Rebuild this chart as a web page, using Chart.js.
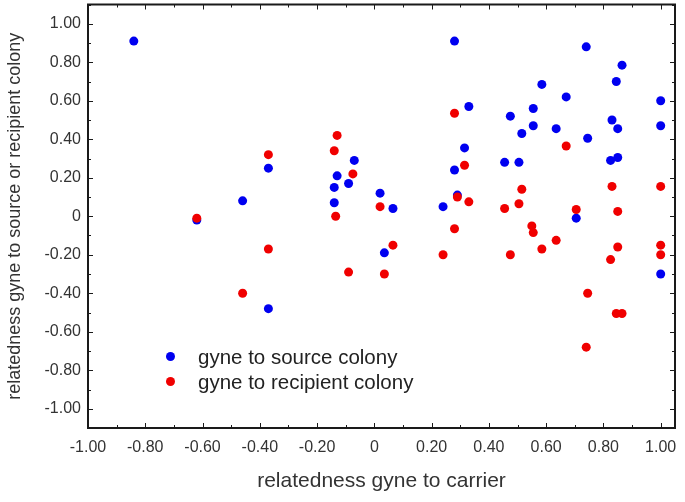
<!DOCTYPE html>
<html>
<head>
<meta charset="utf-8">
<script src="https://cdn.jsdelivr.net/npm/chart.js@4.4.0/dist/chart.umd.min.js"></script>
<style>
  body { margin: 0; background: #fff; }
  #wrap { position: relative; width: 685px; height: 502px; }
  .leg { position: absolute; left: 166px; font: 20.5px "Liberation Sans", Arial, sans-serif; color: #222; white-space: nowrap; }
  .leg span.dot { display: inline-block; width: 9px; height: 9px; border-radius: 50%; margin-right: 23px; vertical-align: middle; position: relative; top: -2px; }
</style>
</head>
<body>
<div id="wrap">
  <canvas id="scatterChart" width="685" height="502"></canvas>
</div>
<script>
// relatedness gyne to carrier (x) vs relatedness gyne to source colony (y)
const sourceX = [-0.84, -0.62, -0.46, -0.37, -0.37, -0.13, -0.09, -0.14, -0.14, -0.07,
  0.02, 0.065, 0.035, 0.24, 0.28, 0.28, 0.29, 0.315, 0.33, 0.455,
  0.475, 0.505, 0.515, 0.555, 0.555, 0.585, 0.635, 0.67, 0.705, 0.74,
  0.745, 0.825, 0.83, 0.845, 0.85, 0.85, 0.865, 1.0, 1.0, 1.0];
const sourceY = [0.91, -0.02, 0.08, 0.25, -0.48, 0.21, 0.17, 0.15, 0.07, 0.29,
  0.12, 0.04, -0.19, 0.05, 0.91, 0.24, 0.11, 0.355, 0.57, 0.28,
  0.52, 0.28, 0.43, 0.56, 0.47, 0.685, 0.455, 0.62, -0.01, 0.88,
  0.405, 0.29, 0.50, 0.70, 0.455, 0.305, 0.785, 0.60, 0.47, -0.30];

// relatedness gyne to carrier (x) vs relatedness gyne to recipient colony (y)
const recipientX = [-0.62, -0.46, -0.37, -0.37, -0.13, -0.14, -0.075, -0.135, -0.09, 0.02,
  0.065, 0.035, 0.24, 0.28, 0.29, 0.28, 0.315, 0.33, 0.455, 0.475,
  0.505, 0.515, 0.55, 0.555, 0.585, 0.635, 0.67, 0.705, 0.74, 0.745,
  0.825, 0.83, 0.85, 0.85, 0.845, 0.865, 1.0, 1.0, 1.0];
const recipientY = [-0.01, -0.40, 0.32, -0.17, 0.42, 0.34, 0.22, 0.0, -0.29, 0.05,
  -0.15, -0.30, -0.20, 0.535, 0.10, -0.065, 0.265, 0.075, 0.04, -0.20,
  0.065, 0.14, -0.05, -0.085, -0.17, -0.125, 0.365, 0.035, -0.68, -0.40,
  -0.225, 0.155, 0.025, -0.16, -0.505, -0.505, 0.155, -0.15, -0.20];

const seriesLabels = ['gyne to source colony', 'gyne to recipient colony'];
const seriesColors = ['#0000f0', '#f00000'];

const toPoints = (xs, ys) => xs.map((x, i) => ({ x: x, y: ys[i] }));

const isMajor = (v) => Math.abs(Math.round(v * 10)) % 2 === 0;
const fmt = (v) => {
  if (!isMajor(v)) return '';
  if (Math.abs(v) < 1e-9) return '0';
  return v.toFixed(2);
};

// frame with inward tick marks on all four sides
const framePlugin = {
  id: 'frame',
  afterDatasetsDraw(chart) {
    const { ctx, chartArea: a, scales } = chart;
    ctx.save();
    ctx.strokeStyle = '#1a1a1a';
    ctx.lineWidth = 1;
    ctx.beginPath();
    scales.x.ticks.forEach((t) => {
      const px = Math.round(scales.x.getPixelForValue(t.value)) + 0.5;
      const len = isMajor(t.value) ? 5 : 3;
      ctx.moveTo(px, a.bottom); ctx.lineTo(px, a.bottom - len);
      ctx.moveTo(px, a.top); ctx.lineTo(px, a.top + len);
    });
    scales.y.ticks.forEach((t) => {
      const py = Math.round(scales.y.getPixelForValue(t.value)) + 0.5;
      const len = isMajor(t.value) ? 5 : 3;
      ctx.moveTo(a.left, py); ctx.lineTo(a.left + len, py);
      ctx.moveTo(a.right, py); ctx.lineTo(a.right - len, py);
    });
    ctx.stroke();
    ctx.lineWidth = 2;
    ctx.strokeRect(a.left, a.top, a.right - a.left, a.bottom - a.top);
    ctx.restore();
  }
};

const tickFont = { family: '"Liberation Sans", Arial, sans-serif', size: 16 };

const chart = new Chart(document.getElementById('scatterChart').getContext('2d'), {
  type: 'scatter',
  data: {
    datasets: [
      {
        label: seriesLabels[0],
        data: toPoints(sourceX, sourceY),
        backgroundColor: seriesColors[0],
        borderWidth: 0,
        pointRadius: 4.5,
        order: 2,
      },
      {
        label: seriesLabels[1],
        data: toPoints(recipientX, recipientY),
        backgroundColor: seriesColors[1],
        borderWidth: 0,
        pointRadius: 4.5,
        order: 1,
      },
    ],
  },
  options: {
    responsive: false,
    animation: false,
    layout: { padding: { top: 4, right: 10, left: 0, bottom: 0 } },
    plugins: { legend: { display: false }, tooltip: { enabled: false } },
    scales: {
      x: {
        type: 'linear',
        min: -1.0,
        max: 1.05,
        grid: { display: false, drawTicks: false, tickLength: 0 },
        border: { display: false },
        ticks: {
          stepSize: 0.1,
          includeBounds: false,
          autoSkip: false,
          maxRotation: 0,
          padding: 10,
          color: '#333',
          font: tickFont,
          callback: fmt,
        },
        title: {
          display: true,
          text: 'relatedness gyne to carrier',
          color: '#333',
          font: { family: '"Liberation Sans", Arial, sans-serif', size: 21 },
          padding: { top: 0, bottom: 8 },
        },
        afterFit(scale) {
          scale.height = 74;
          scale.paddingLeft = 0;
          scale.paddingRight = 0;
        },
      },
      y: {
        type: 'linear',
        min: -1.1,
        max: 1.1,
        grid: { display: false, drawTicks: false, tickLength: 0 },
        border: { display: false },
        ticks: {
          stepSize: 0.1,
          includeBounds: false,
          autoSkip: false,
          padding: 7,
          color: '#333',
          font: tickFont,
          callback: fmt,
        },
        title: {
          display: true,
          text: 'relatedness gyne to source or recipient colony',
          color: '#333',
          font: { family: '"Liberation Sans", Arial, sans-serif', size: 18 },
          padding: { top: 4, bottom: 0 },
        },
        afterFit(scale) {
          scale.width = 88;
          scale.paddingTop = 0;
          scale.paddingBottom = 0;
        },
      },
    },
  },
  plugins: [framePlugin],
});

// legend placed inside the plot area, lower left
const wrap = document.getElementById('wrap');
const legendTops = [345, 370];
chart.data.datasets.forEach((ds, i) => {
  const row = document.createElement('div');
  row.className = 'leg';
  row.style.top = legendTops[i] + 'px';
  const dot = document.createElement('span');
  dot.className = 'dot';
  dot.style.background = ds.backgroundColor;
  row.appendChild(dot);
  row.appendChild(document.createTextNode(ds.label));
  wrap.appendChild(row);
});
</script>
</body>
</html>
